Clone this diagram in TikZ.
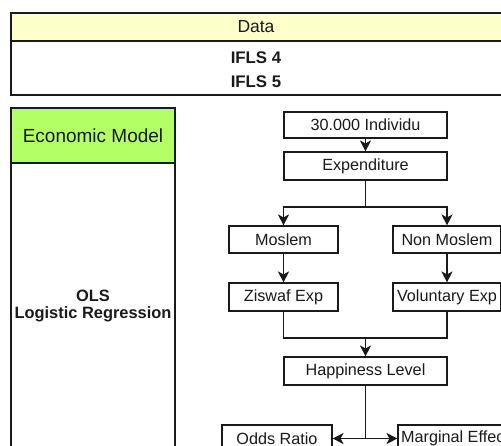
\documentclass[tikz,border=0pt]{standalone}
\usepackage{fontspec}
\setmainfont{Liberation Sans}
\usetikzlibrary{arrows.meta,positioning}
\definecolor{hdryellow}{HTML}{FFFFCC}
\definecolor{hdrgreen}{HTML}{B3FF66}
\definecolor{ink}{HTML}{1A1A1A}
\tikzset{
  flowbox/.style={draw=ink, line width=1.1pt, fill=white, inner sep=0pt,
    minimum height=27pt, text=ink, font=\fontsize{16.2}{19}\selectfont},
  conn/.style={draw=ink, line width=1.7pt},
  arr/.style={conn, -{Stealth[length=11pt,width=11pt,inset=3pt]}},
  panel/.style={draw=ink, line width=1.1pt},
}
\begin{document}
\begin{tikzpicture}[x=1pt,y=-1pt]
\clip (0,0) rectangle (501,445);
\fill[white] (0,0) rectangle (501,445);
% Data panel
\fill[hdryellow] (11,13) rectangle (503,41);
\draw[panel] (11,13) rectangle (503,95);
\draw[panel] (11,41) -- (503,41);
\node[text=ink, font=\fontsize{17.5}{20}\selectfont] (data) at (256,27) {Data};
\node[text=ink, font=\bfseries\fontsize{16.8}{24.5}\selectfont, align=center] (ifls) at (256,69.5) {IFLS 4\\IFLS 5};
% Economic model panel
\fill[hdrgreen] (11,108) rectangle (175,163);
\draw[panel] (11,108) rectangle (175,470);
\draw[panel] (11,163) -- (175,163);
\node[text=ink, font=\fontsize{19}{22}\selectfont] (econ) at (93,135.5) {Economic Model};
\node[text=ink, font=\bfseries\fontsize{16.4}{17}\selectfont, align=center] (ols) at (93,306) {OLS\\Logistic Regression};
% Flow
\node[flowbox, minimum width=163pt, minimum height=26pt] (ind) at (365.5,125) {30.000 Individu};
\node[flowbox, minimum width=163pt, minimum height=28pt] (exp) at (365.5,166) {Expenditure};
\node[flowbox, minimum width=109pt] (mos) at (283.5,239.5) {Moslem};
\node[flowbox, minimum width=108pt] (non) at (447,239.5) {Non Moslem};
\node[flowbox, minimum width=109pt, minimum height=28pt] (zis) at (283.5,297) {Ziswaf Exp};
\node[flowbox, minimum width=108pt, minimum height=28pt] (vol) at (447,297) {Voluntary Exp};
\node[flowbox, minimum width=163pt, minimum height=28pt] (hap) at (365.5,371) {Happiness Level};
\node[flowbox, minimum width=110pt, minimum height=27pt] (odds) at (277,438.5) {Odds Ratio};
\node[flowbox, minimum width=114pt, minimum height=27pt] (marg) at (455,438.5) {Marginal Effect};
\coordinate (split) at (365.5,207);
\coordinate (merge) at (365.5,338);
\coordinate (junc) at (hap.south |- odds.east);
\draw[arr] (ind) -- (exp);
\draw[conn] (exp) -- (split);
\draw[arr] (split) -| (mos.north);
\draw[arr] (split) -| (non.north);
\draw[arr] (mos) -- (zis);
\draw[arr] (non) -- (vol);
\draw[conn] (zis.south) |- (merge);
\draw[conn] (vol.south) |- (merge);
\draw[arr] (merge) -- (hap.north);
\draw[conn] (hap.south) -- (junc);
\draw[arr] (junc) -- (odds.east);
\draw[arr] (junc) -- (marg.west);
\end{tikzpicture}
\end{document}
